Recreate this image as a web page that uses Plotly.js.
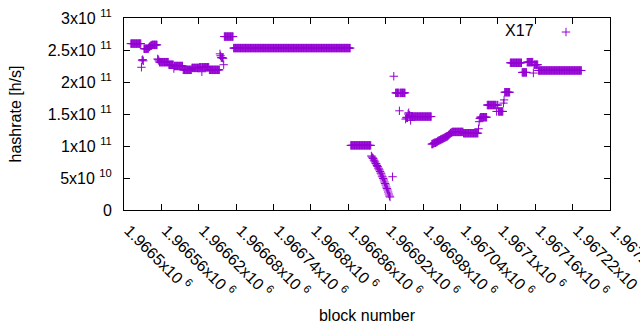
<!DOCTYPE html>
<html>
<head>
<meta charset="utf-8">
<script src="https://cdn.plot.ly/plotly-3.0.1.min.js"></script>
<style>
html,body{margin:0;padding:0;background:#ffffff;}
#chart{width:640px;height:330px;}
</style>
</head>
<body>
<div id="chart"></div>
<script>
// ---- data (hashrate per block, run-length encoded:
// each run is a hashrate value repeated for runLength consecutive blocks; null = no point)
const firstBlock = 1966511;
const runHashrate = [
  2.60e11, 2.23e11, 2.34e11, 2.35e11, 2.33e11, 2.52e11, 2.54e11, 2.55e11, 2.56e11, 2.57e11,
  2.58e11, 2.36e11, 2.35e11, 2.33e11, 2.31e11, 2.27e11, 2.21e11, 2.25e11, 2.19e11, 2.22e11,
  2.23e11, 2.16e11, 2.23e11, 2.19e11, 2.44e11, 2.41e11, 2.38e11, 2.37e11, 2.27e11, 2.71e11,
  2.53e11, 1.01e11,
  0.844e11, 0.828e11, 0.813e11, 0.805e11, 0.781e11, 0.766e11, 0.750e11, 0.727e11, 0.719e11, 0.695e11,
  0.680e11, 0.656e11, 0.641e11, 0.625e11, 0.602e11, 0.578e11, 0.563e11, 0.531e11, 0.516e11, 0.492e11,
  0.469e11, 0.438e11, 0.414e11, 0.391e11, 0.359e11, 0.336e11, 0.313e11, 0.281e11, 0.250e11, 0.219e11,
  0.203e11,
  null, 0.52e11, null, 2.09e11, null, 1.83e11, 1.55e11, 1.83e11,
  1.42e11, 1.44e11, 1.45e11, 1.44e11, 1.50e11, 1.52e11, 1.48e11, 1.47e11, 1.40e11, 1.46e11,
  1.03e11, 1.04e11, 1.05e11, 1.06e11, 1.07e11, 1.08e11, 1.09e11, 1.10e11, 1.11e11, 1.12e11,
  1.13e11, 1.14e11, 1.15e11, 1.16e11, 1.17e11, 1.18e11, 1.19e11, 1.20e11, 1.21e11,
  1.22e11, 1.20e11, 1.27e11, 1.38e11, 1.43e11, 1.45e11, 1.64e11, 1.54e11, 1.64e11, 1.54e11,
  1.67e11, 1.72e11, 1.84e11, 2.30e11, 2.15e11, 2.31e11, 2.14e11, 2.27e11, 2.18e11
];
const runLength = [
  17, 1, 1, 1, 1, 8, 1, 1, 1, 2,
  9, 1, 1, 1, 15, 8, 1, 14, 14, 12,
  4, 1, 11, 17, 1, 1, 3, 1, 1, 15,
  188, 33,
  1, 1, 1, 1, 1, 1, 1, 1, 1, 1,
  1, 1, 1, 1, 1, 1, 1, 1, 1, 1,
  1, 1, 1, 1, 1, 1, 1, 1, 1, 1,
  1,
  3, 1, 1, 1, 2, 6, 1, 9,
  1, 1, 1, 1, 1, 1, 1, 1, 1, 33,
  2, 2, 3, 2, 1, 2, 2, 2, 2, 2,
  2, 2, 2, 1, 1, 1, 1, 1, 2,
  18, 24, 1, 1, 1, 11, 15, 1, 2, 8,
  1, 1, 9, 19, 8, 10, 1, 7, 70
];
const seriesName = 'X17';

const xTickValues = [1966500, 1966560, 1966620, 1966680, 1966740, 1966800, 1966860,
                     1966920, 1966980, 1967040, 1967100, 1967160, 1967220, 1967280];
const xTickLabels = ['1.9665x10 <sup>6</sup>', '1.96656x10 <sup>6</sup>', '1.96662x10 <sup>6</sup>',
  '1.96668x10 <sup>6</sup>', '1.96674x10 <sup>6</sup>', '1.9668x10 <sup>6</sup>', '1.96686x10 <sup>6</sup>',
  '1.96692x10 <sup>6</sup>', '1.96698x10 <sup>6</sup>', '1.96704x10 <sup>6</sup>', '1.9671x10 <sup>6</sup>',
  '1.96716x10 <sup>6</sup>', '1.96722x10 <sup>6</sup>', '1.96728x10 <sup>6</sup>'];
const yTickValues = [0, 5e10, 1e11, 1.5e11, 2e11, 2.5e11, 3e11];
const yTickLabels = ['0', '5x10 <sup>10</sup>', '1x10 <sup>11</sup>', '1.5x10 <sup>11</sup>',
  '2x10 <sup>11</sup>', '2.5x10 <sup>11</sup>', '3x10 <sup>11</sup>'];

// ---- expand runs into points
const blocks = [], hashrates = [];
let blk = firstBlock;
runHashrate.forEach(function (v, i) {
  for (let k = 0; k < runLength[i]; k++) {
    if (v !== null) { blocks.push(blk); hashrates.push(v); }
    blk++;
  }
});

const purple = '#9400d3';
const FONT = 'Liberation Sans, Arial, Helvetica, sans-serif';
const FS = 16;

const trace = {
  type: 'scatter', mode: 'markers', name: ' ',
  x: blocks, y: hashrates,
  marker: { symbol: 'cross-thin', size: 6, color: purple, line: { color: purple, width: 1 } },
  hoverinfo: 'skip'
};

const axisCommon = {
  showline: true, linecolor: '#000', linewidth: 1, mirror: 'allticks',
  ticks: 'inside', ticklen: 6, tickwidth: 1, tickcolor: '#000',
  showgrid: false, zeroline: false,
  tickfont: { family: FONT, size: FS, color: '#000' }
};

const layout = {
  width: 640, height: 330,
  margin: { l: 124, r: 30, t: 18, b: 120 },
  paper_bgcolor: '#ffffff', plot_bgcolor: '#ffffff',
  font: { family: FONT, size: FS, color: '#000' },
  xaxis: Object.assign({}, axisCommon, {
    range: [1966500, 1967280], tickmode: 'array', tickvals: xTickValues, ticktext: xTickLabels,
    tickangle: 45, ticklabelstandoff: 4, ticklabelshift: 5, ticklabeloverflow: 'allow',
    title: { text: 'block number', font: { family: FONT, size: FS, color: '#000' }, standoff: 10 }
  }),
  yaxis: Object.assign({}, axisCommon, {
    range: [0, 3e11], tickmode: 'array', tickvals: yTickValues, ticktext: yTickLabels,
    ticklabelstandoff: 8,
    title: { text: 'hashrate [h/s]', font: { family: FONT, size: FS, color: '#000' }, standoff: 22 }
  }),
  showlegend: true,
  legend: {
    x: 0.78, y: 1.015, xanchor: 'left', yanchor: 'top',
    bgcolor: 'rgba(0,0,0,0)', borderwidth: 0,
    font: { family: FONT, size: FS, color: '#000' },
    title: { text: seriesName + '&nbsp;', side: 'left', font: { family: FONT, size: FS, color: '#000' } }
  }
};

Plotly.newPlot('chart', [trace], layout, { staticPlot: true, displayModeBar: false });
</script>
</body>
</html>
